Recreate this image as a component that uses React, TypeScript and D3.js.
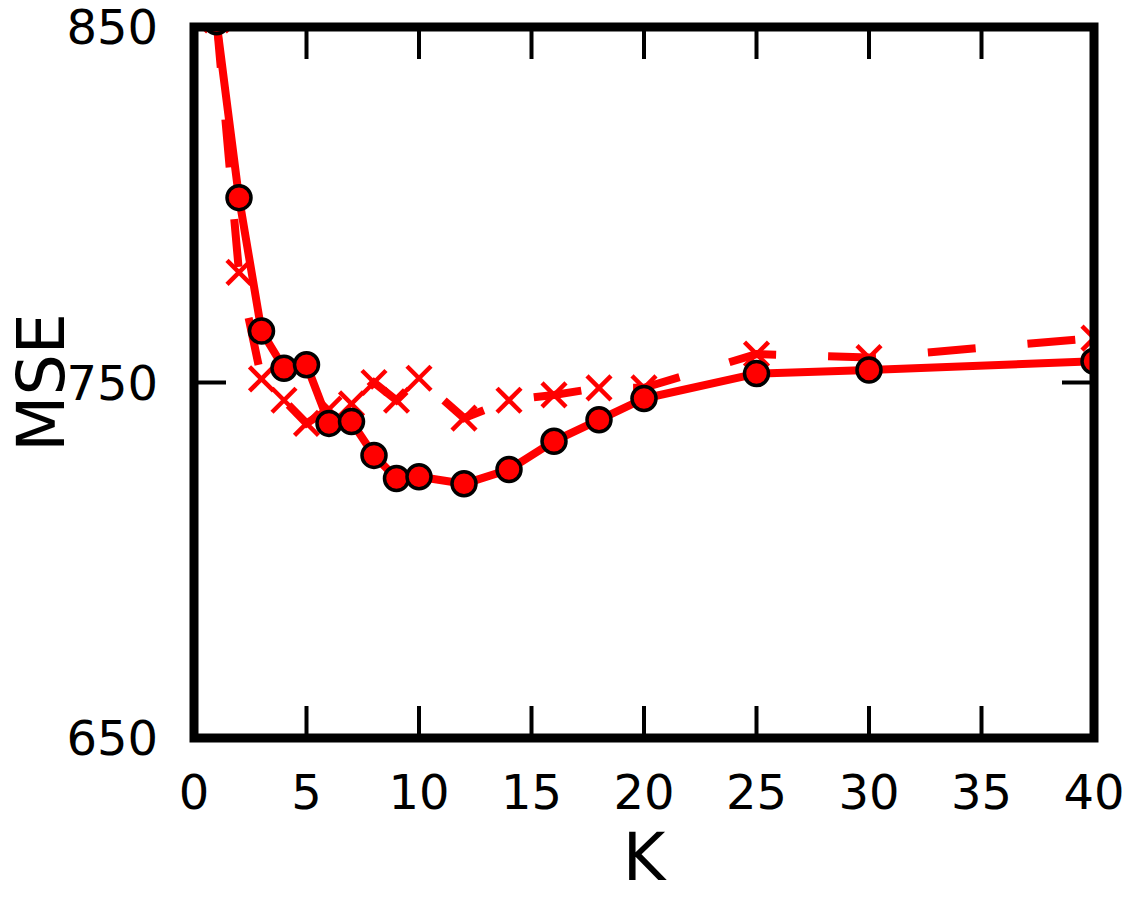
import React from 'react';
import * as d3 from 'd3';

// K values and MSE readings for both curves
const kValues = [1, 2, 3, 4, 5, 6, 7, 8, 9, 10, 12, 14, 16, 18, 20, 25, 30, 40];
const solidMse = [851.5, 802, 764.5, 754, 755, 738.5, 739, 729.5, 723, 723.5, 721.5, 725.5, 733.5, 739.5, 745.5, 752.5, 753.5, 756];
const dashedMse = [852, 781, 751, 745, 738.5, 742.5, 744, 750, 745, 751.2, 740, 745, 746.5, 748.5, 748.5, 758, 757, 762.5];

const xTicks = [0, 5, 10, 15, 20, 25, 30, 35, 40];
const yTicks = [650, 750, 850];

const RED = '#ff0000';
const FONT = '"DejaVu Sans", sans-serif';

const App = () => {
  const width = 1140;
  const height = 900;
  const margin = { top: 27, right: 46, bottom: 162, left: 194 };
  const x0 = margin.left;
  const x1 = width - margin.right;
  const y0 = margin.top;
  const y1 = height - margin.bottom;

  const x = d3.scaleLinear().domain([0, 40]).range([x0, x1]);
  const y = d3.scaleLinear().domain([650, 850]).range([y1, y0]);

  const solidPts = kValues.map((k, i) => [k, solidMse[i]] as [number, number]);
  const dashedPts = kValues.map((k, i) => [k, dashedMse[i]] as [number, number]);

  const line = d3.line<[number, number]>()
    .x(d => x(d[0]))
    .y(d => y(d[1]));

  const tickLen = 32;
  const xs = 12; // half size of the x markers

  return (
    <svg width={width} height={height} style={{ position: 'absolute', left: 0, top: 0, background: '#fff' }}>
      <defs>
        <clipPath id="plot-clip">
          <rect x={x0} y={y0} width={x1 - x0} height={y1 - y0} />
        </clipPath>
      </defs>

      <g clipPath="url(#plot-clip)">
        {/* dashed series */}
        <path d={line(dashedPts) || ''} fill="none" stroke={RED} strokeWidth={8}
          strokeDasharray="48,52" />
        {dashedPts.map(([k, v]) => (
          <g key={`x${k}`} stroke={RED} strokeWidth={4.5}>
            <line x1={x(k) - xs} y1={y(v) - xs} x2={x(k) + xs} y2={y(v) + xs} />
            <line x1={x(k) - xs} y1={y(v) + xs} x2={x(k) + xs} y2={y(v) - xs} />
          </g>
        ))}

        {/* solid series */}
        <path d={line(solidPts) || ''} fill="none" stroke={RED} strokeWidth={8} strokeLinejoin="round" />
        {solidPts.map(([k, v]) => (
          <circle key={`c${k}`} cx={x(k)} cy={y(v)} r={12} fill={RED} stroke="#000" strokeWidth={3.5} />
        ))}
      </g>

      {/* ticks, inward on all four sides */}
      <g stroke="#000" strokeWidth={4}>
        {xTicks.map(t => (
          <g key={`xt${t}`}>
            <line x1={x(t)} x2={x(t)} y1={y1} y2={y1 - tickLen} />
            <line x1={x(t)} x2={x(t)} y1={y0} y2={y0 + tickLen} />
          </g>
        ))}
        {yTicks.map(t => (
          <g key={`yt${t}`}>
            <line x1={x0} x2={x0 + tickLen} y1={y(t)} y2={y(t)} />
            <line x1={x1} x2={x1 - tickLen} y1={y(t)} y2={y(t)} />
          </g>
        ))}
      </g>

      {/* frame */}
      <rect x={x0} y={y0} width={x1 - x0} height={y1 - y0} fill="none" stroke="#000" strokeWidth={9} />

      {/* tick labels */}
      <g fontFamily={FONT} fontSize={48} fill="#000">
        {xTicks.map(t => (
          <text key={`xl${t}`} x={x(t)} y={809} textAnchor="middle">{t}</text>
        ))}
        {yTicks.map(t => (
          <text key={`yl${t}`} x={158} y={y(t) + 17} textAnchor="end">{t}</text>
        ))}
      </g>

      {/* axis titles */}
      <text x={(x0 + x1) / 2} y={880} textAnchor="middle" fontFamily={FONT} fontSize={65}>K</text>
      <text transform={`translate(64,${(y0 + y1) / 2}) rotate(-90)`} textAnchor="middle"
        fontFamily={FONT} fontSize={65}>MSE</text>
    </svg>
  );
};

export default App;
